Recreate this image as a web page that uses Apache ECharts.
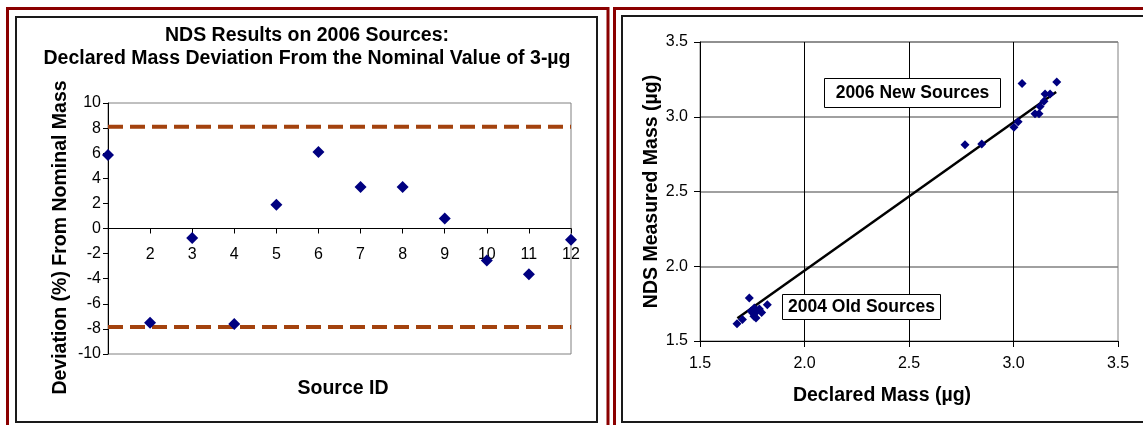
<!DOCTYPE html>
<html><head><meta charset="utf-8">
<script src="https://cdn.jsdelivr.net/npm/echarts@6/dist/echarts.min.js"></script>
<style>html,body{margin:0;padding:0;background:#fff}#c{width:1143px;height:425px}</style>
</head><body><div id="c"></div>
<script>
// ---- Left chart data ----
const sourceIds = [1,2,3,4,5,6,7,8,9,10,11,12];
const deviationPct = [5.85,-7.5,-0.75,-7.6,1.9,6.1,3.3,3.3,0.8,-2.55,-3.65,-0.9];
const limitX = [1, 12];
const upperLimit = [8.1, 8.1];
const lowerLimit = [-7.85, -7.85];
const leftXTickLabels = ['', '2','3','4','5','6','7','8','9','10','11','12'];
const leftYTickLabels = ['-10','-8','-6','-4','-2','0','2','4','6','8','10'];

// ---- Right chart data ----
const newDeclared = [2.768,2.848,3.002,3.022,3.041,3.103,3.122,3.127,3.146,3.151,3.175,3.207];
const newMeasured = [2.813,2.818,2.929,2.967,3.223,3.020,3.020,3.069,3.103,3.152,3.152,3.232];
const oldDeclared = [1.677,1.703,1.736,1.752,1.758,1.771,1.784,1.768,1.795,1.822,1.745,1.760];
const oldMeasured = [1.616,1.643,1.788,1.687,1.665,1.698,1.714,1.654,1.691,1.743,1.700,1.720];
const trendX = [1.679, 3.204];
const trendY = [1.652, 3.165];
const rightTickLabels = ['1.5','2.0','2.5','3.0','3.5'];

const FONT = "'Liberation Sans', Arial, sans-serif";
const zip = (a, b) => a.map((v, i) => [v, b[i]]);
const tickFmt = (labels, min, step) => v => labels[Math.round((v - min) / step)] ?? '';

const chart = echarts.init(document.getElementById('c'), null, {renderer: 'canvas'});
chart.setOption({
  backgroundColor: '#fff',
  animation: false,
  textStyle: {fontFamily: FONT},
  title: [{
    text: 'NDS Results on 2006 Sources:\nDeclared Mass Deviation From the Nominal Value of 3-µg',
    left: 307, top: 24, padding: 0, textAlign: 'center',
    textStyle: {fontFamily: FONT, fontSize: 19.5, fontWeight: 'bold', color: '#000', lineHeight: 23}
  }],
  grid: [
    {left: 108, top: 103, width: 463, height: 251, show: true, borderColor: '#808080', borderWidth: 1, backgroundColor: 'transparent', containLabel: false, outerBoundsMode: 'none'},
    {left: 700, top: 42, width: 418, height: 299, show: true, borderColor: '#808080', borderWidth: 1, backgroundColor: 'transparent', containLabel: false, outerBoundsMode: 'none'}
  ],
  xAxis: [
    {
      gridIndex: 0, type: 'value', min: 1, max: 12, interval: 1,
      position: 'bottom', offset: -125.5,
      axisLine: {onZero: false, lineStyle: {color: '#000', width: 1}},
      axisTick: {show: true, inside: false, length: 5, lineStyle: {color: '#000'}},
      axisLabel: {margin: 18, fontSize: 16, color: '#000', fontFamily: FONT, formatter: tickFmt(leftXTickLabels, 1, 1)},
      splitLine: {show: false},
      name: 'Source ID', nameLocation: 'middle', nameGap: 160, nameMoveOverlap: false,
      nameTextStyle: {fontSize: 19.5, fontWeight: 'bold', color: '#000', fontFamily: FONT, verticalAlign: 'middle', padding: [0, 0, 0, 7]}
    },
    {
      gridIndex: 1, type: 'value', min: 1.5, max: 3.5, interval: 0.5,
      axisLine: {onZero: false, lineStyle: {color: '#000', width: 1}},
      axisTick: {show: true, length: 6, lineStyle: {color: '#000'}},
      axisLabel: {margin: 15, fontSize: 16, color: '#000', fontFamily: FONT, formatter: tickFmt(rightTickLabels, 1.5, 0.5)},
      splitLine: {show: true, showMinLine: false, showMaxLine: false, lineStyle: {color: '#000', width: 1}},
      name: 'Declared Mass (µg)', nameLocation: 'middle', nameGap: 55,
      nameTextStyle: {fontSize: 19.5, fontWeight: 'bold', color: '#000', fontFamily: FONT, verticalAlign: 'middle', padding: [0, 54, 0, 0]}
    }
  ],
  yAxis: [
    {
      gridIndex: 0, type: 'value', min: -10, max: 10, interval: 2,
      axisLine: {show: true, onZero: false, lineStyle: {color: '#000', width: 1}},
      axisTick: {show: true, length: 5, lineStyle: {color: '#000'}},
      axisLabel: {margin: 7, fontSize: 16, color: '#000', fontFamily: FONT, formatter: tickFmt(leftYTickLabels, -10, 2)},
      splitLine: {show: false},
      name: 'Deviation (%) From Nominal Mass', nameLocation: 'middle', nameGap: 47,
      nameTextStyle: {fontSize: 19.5, fontWeight: 'bold', color: '#000', fontFamily: FONT, verticalAlign: 'middle', padding: [0, 18, 0, 0]}
    },
    {
      gridIndex: 1, type: 'value', min: 1.5, max: 3.5, interval: 0.5,
      axisLine: {show: true, onZero: false, lineStyle: {color: '#000', width: 1}},
      axisTick: {show: true, length: 6, lineStyle: {color: '#000'}},
      axisLabel: {margin: 12, fontSize: 16, color: '#000', fontFamily: FONT, formatter: tickFmt(rightTickLabels, 1.5, 0.5)},
      splitLine: {show: true, showMinLine: false, lineStyle: {color: '#808080', width: 1.5}},
      name: 'NDS Measured Mass (µg)', nameLocation: 'middle', nameGap: 46,
      nameTextStyle: {fontSize: 19.5, fontWeight: 'bold', color: '#000', fontFamily: FONT, verticalAlign: 'middle'}
    }
  ],
  series: [
    {type: 'line', xAxisIndex: 0, yAxisIndex: 0, data: zip(limitX, upperLimit), symbol: 'none',
     lineStyle: {color: '#A3420E', width: 4, type: [15, 7]}, z: 2, silent: true},
    {type: 'line', xAxisIndex: 0, yAxisIndex: 0, data: zip(limitX, lowerLimit), symbol: 'none',
     lineStyle: {color: '#A3420E', width: 4, type: [15, 7]}, z: 2, silent: true},
    {type: 'scatter', xAxisIndex: 0, yAxisIndex: 0, data: zip(sourceIds, deviationPct),
     symbol: 'diamond', symbolSize: [12, 12], itemStyle: {color: '#000080', opacity: 1}, z: 4},
    {type: 'line', xAxisIndex: 1, yAxisIndex: 1, data: zip(trendX, trendY), symbol: 'none',
     lineStyle: {color: '#000', width: 2.5}, z: 2, silent: true},
    {type: 'scatter', xAxisIndex: 1, yAxisIndex: 1, data: zip(newDeclared, newMeasured),
     symbol: 'diamond', symbolSize: [9, 9], itemStyle: {color: '#000080', opacity: 1}, z: 4},
    {type: 'scatter', xAxisIndex: 1, yAxisIndex: 1, data: zip(oldDeclared, oldMeasured),
     symbol: 'diamond', symbolSize: [9, 9], itemStyle: {color: '#000080', opacity: 1}, z: 4}
  ],
  graphic: [
    {type: 'rect', shape: {x: 7.5, y: 8.5, width: 600.5, height: 500}, style: {fill: 'none', stroke: '#8B0000', lineWidth: 3}, z: 100, silent: true},
    {type: 'rect', shape: {x: 614.5, y: 8.5, width: 600, height: 500}, style: {fill: 'none', stroke: '#8B0000', lineWidth: 3}, z: 100, silent: true},
    {type: 'rect', shape: {x: 16, y: 17, width: 581, height: 405}, style: {fill: 'none', stroke: '#1a1a1a', lineWidth: 2}, z: 100, silent: true},
    {type: 'rect', shape: {x: 622, y: 16, width: 600, height: 406}, style: {fill: 'none', stroke: '#1a1a1a', lineWidth: 2}, z: 100, silent: true},
    {type: 'rect', shape: {x: 824.5, y: 78.5, width: 176, height: 29}, style: {fill: '#fff', stroke: '#000', lineWidth: 1}, z: 50},
    {type: 'text', x: 912.5, y: 93, style: {text: '2006 New Sources', font: "bold 17.5px 'Liberation Sans', Arial, sans-serif", fill: '#000', align: 'center', verticalAlign: 'middle'}, z: 51},
    {type: 'rect', shape: {x: 782.5, y: 294.5, width: 158, height: 25}, style: {fill: '#fff', stroke: '#000', lineWidth: 1}, z: 50},
    {type: 'text', x: 861.5, y: 307.5, style: {text: '2004 Old Sources', font: "bold 17.5px 'Liberation Sans', Arial, sans-serif", fill: '#000', align: 'center', verticalAlign: 'middle'}, z: 51}
  ]
});
</script>
</body></html>
